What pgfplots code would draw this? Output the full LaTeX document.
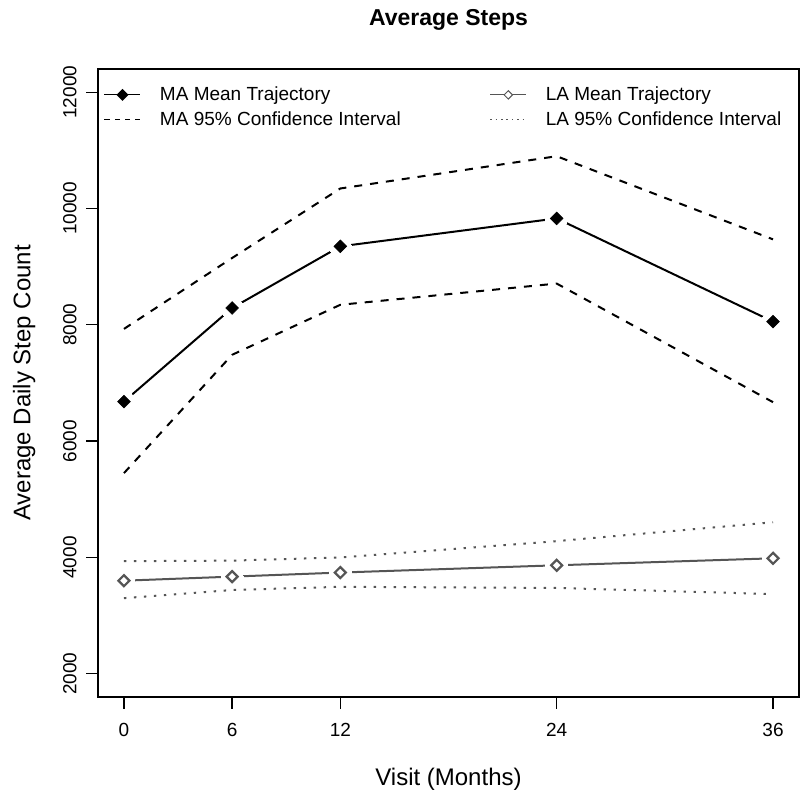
\documentclass[border=0pt]{standalone}
\usepackage{fontspec}
\setmainfont{Liberation Sans}
\usepackage{pgfplots}
\pgfplotsset{compat=1.18}
\definecolor{lagray}{RGB}{85,85,85}
\pgfplotstableread{
x y
0 6680
6 8290
12 9350
24 9830
36 8055
}\mamean
\pgfplotstableread{
x y
0 7930
6 9150
12 10345
24 10900
36 9470
}\maupper
\pgfplotstableread{
x y
0 5450
6 7485
12 8345
24 8710
36 6670
}\malower
\pgfplotstableread{
x y
0 3600
6 3670
12 3740
24 3865
36 3985
}\lamean
\pgfplotstableread{
x y
0 3935
6 3945
12 4000
24 4280
36 4605
}\laupper
\pgfplotstableread{
x y
0 3300
6 3440
12 3495
24 3475
36 3370
}\lalower
\begin{document}
\begin{tikzpicture}
\path[use as bounding box] (-49pt,-50pt) rectangle (351pt,348.5pt);
\begin{axis}[
  scale only axis, width=350.5pt, height=314pt,
  xmin=-1.44, xmax=37.44, ymin=1600, ymax=12400,
  xtick={0,6,12,24,36}, ytick={2000,4000,6000,8000,10000,12000},
  scaled y ticks=false, scaled x ticks=false,
  /pgf/number format/set thousands separator={},
  /pgf/number format/assume math mode=true,
  tick align=outside, major tick length=5.8pt, tick pos=left,
  every tick/.style={black, line width=0.65pt},
  axis line style={line width=0.65pt},
  xticklabel style={font=\fontsize{9.5}{11}\selectfont, anchor=base, inner sep=0pt, yshift=-14pt},
  yticklabel style={font=\fontsize{9.5}{11}\selectfont, rotate=90, anchor=base, inner sep=0pt, yshift=5pt},
  title={Average Steps},
  title style={font=\bfseries\fontsize{11.5}{13}\selectfont, at={(axis description cs:0.5,1)}, anchor=base, yshift=15.75pt, inner sep=0pt},
  xlabel={Visit (Months)},
  xlabel style={font=\fontsize{12}{14}\selectfont, at={(axis description cs:0.5,0)}, anchor=base, yshift=-44.25pt, inner sep=0pt},
  ylabel={Average Daily Step Count},
  ylabel style={font=\fontsize{12}{14}\selectfont, at={([xshift=-33.75pt]axis description cs:0,0.5)}, anchor=base, inner sep=0pt},
  legend columns=2,
  legend cell align=left,
  legend style={draw=none, fill=none, at={(axis description cs:0,1)}, anchor=north west, xshift=3pt, yshift=-8.75pt,
    inner sep=0pt, outer sep=0pt, font=\fontsize{9.5}{11}\selectfont, row sep=4pt, column sep=9.5pt,
    /tikz/column 2/.style={column sep=44.5pt}, nodes={inner sep=0pt}},
]
\addplot[black, line width=1pt, legend image code/.code={
  \draw[black, line width=0.5pt] (0pt,0pt) -- (18pt,0pt);
  \fill[black] (9pt,2.3pt) -- (11.3pt,0pt) -- (9pt,-2.3pt) -- (6.7pt,0pt) -- cycle;}] table {\mamean};
\addlegendentry{MA Mean Trajectory}
\addplot[lagray, line width=1pt, legend image code/.code={
  \draw[lagray, line width=0.5pt] (0pt,0pt) -- (18pt,0pt);
  \draw[lagray, fill=white, line width=0.5pt] (9pt,2.1pt) -- (11.1pt,0pt) -- (9pt,-2.1pt) -- (6.9pt,0pt) -- cycle;}] table {\lamean};
\addlegendentry{LA Mean Trajectory}
\addplot[black, line width=1pt, dash pattern=on 4pt off 4pt, legend image code/.code={
  \draw[black, line width=0.5pt, dash pattern=on 2.57pt off 2.57pt] (0pt,0pt) -- (18pt,0pt);}] table {\maupper};
\addlegendentry{MA 95\% Confidence Interval}
\addplot[lagray, line width=1pt, dash pattern=on 1.2pt off 3.8pt, legend image code/.code={
  \draw[lagray, line width=0.5pt, dash pattern=on 0.8pt off 1.9pt] (0pt,0pt) -- (18pt,0pt);}] table {\laupper};
\addlegendentry{LA 95\% Confidence Interval}
\addplot[black, line width=1pt, dash pattern=on 4pt off 4pt, forget plot] table {\malower};
\addplot[lagray, line width=1pt, dash pattern=on 1.2pt off 3.8pt, forget plot] table {\lalower};
% gaps around points (type = "b")
\addplot[white, only marks, mark=*, mark size=5.5pt, mark options={white, fill=white, draw=white, line width=0pt}, forget plot] table {\mamean};
\addplot[white, only marks, mark=*, mark size=5.5pt, mark options={white, fill=white, draw=white, line width=0pt}, forget plot] table {\lamean};
\addplot[black, only marks, mark=square*, mark size=2.25pt, mark options={rotate=45, fill=black, draw=black, line width=0.3pt}, forget plot] table {\mamean};
\addplot[lagray, only marks, mark=square, mark size=1.95pt, mark options={rotate=45, fill=white, draw=lagray, line width=1.1pt}, forget plot] table {\lamean};
\end{axis}
\end{tikzpicture}
\end{document}
